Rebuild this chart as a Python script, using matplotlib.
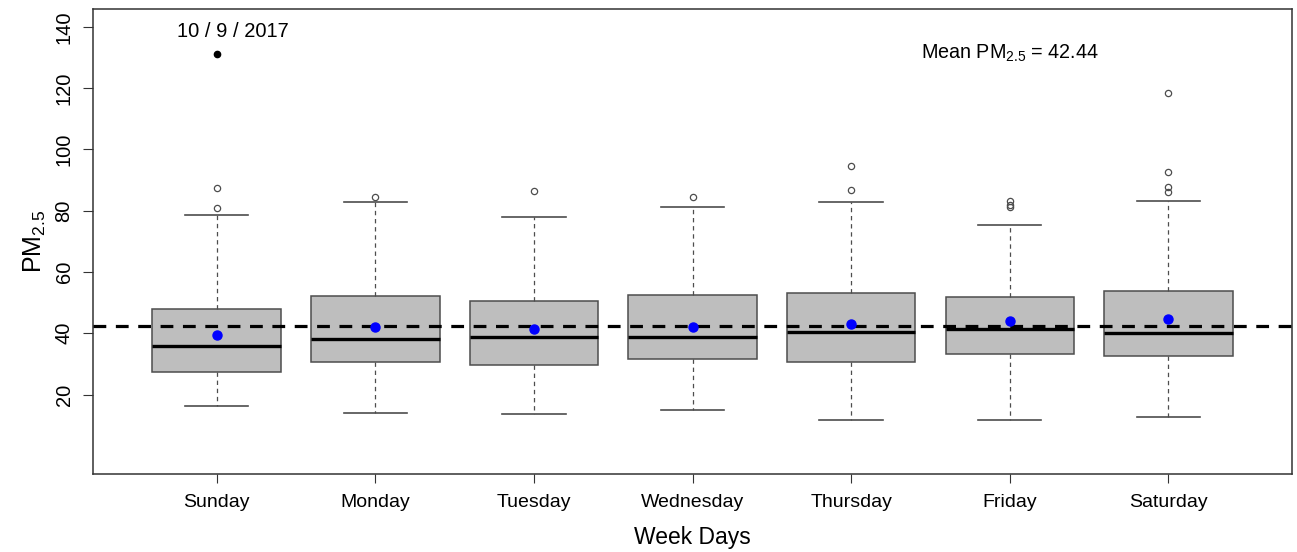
import matplotlib as mpl
import matplotlib.pyplot as plt
import numpy as np

mpl.rcParams['font.family'] = ['Liberation Sans', 'DejaVu Sans']
mpl.rcParams['mathtext.default'] = 'regular'

# values
days = ["Sunday", "Monday", "Tuesday", "Wednesday", "Thursday", "Friday", "Saturday"]
q1 = [27.3, 30.8, 29.8, 31.5, 30.8, 33.4, 32.6]
med = [35.7, 38.2, 38.8, 38.7, 40.4, 41.3, 40.0]
q3 = [47.8, 52.2, 50.6, 52.5, 53.1, 52.0, 53.7]
whis_lo = [16.3, 13.9, 13.7, 14.9, 11.7, 11.7, 12.8]
whis_hi = [78.6, 82.9, 78.1, 81.3, 82.9, 75.3, 83.2]
means = [39.4, 42.0, 41.3, 42.0, 43.0, 44.1, 44.8]
outliers = [[81.0, 87.3], [84.6], [86.4], [84.5], [86.8, 94.7],
            [81.2, 82.0, 83.0], [86.0, 87.6, 92.7, 118.3]]
extreme_day = 1
extreme_val = 131.2
extreme_label = "10 / 9 / 2017"
mean_pm = 42.44

stats = []
for i in range(len(days)):
    stats.append(dict(label=days[i], q1=q1[i], med=med[i], q3=q3[i],
                      whislo=whis_lo[i], whishi=whis_hi[i], fliers=outliers[i]))

fig = plt.figure(figsize=(12.97, 5.52), dpi=100)
ax = fig.add_axes([0.0717, 0.1413, 0.9245, 0.8424])

pos = np.arange(1, len(days) + 1)
edge = "#4d4d4d"
ax.bxp(stats, positions=pos, widths=0.81, patch_artist=True, showfliers=True,
       boxprops=dict(facecolor="#bebebe", edgecolor=edge, lw=1.1),
       medianprops=dict(color="black", lw=2.4),
       whiskerprops=dict(color=edge, lw=0.9, ls=(0, (3.5, 3))),
       capprops=dict(color=edge, lw=1.2),
       capwidths=0.4,
       flierprops=dict(marker="o", markersize=4.5, markerfacecolor="none",
                       markeredgecolor=edge, markeredgewidth=0.9))

ax.plot(pos, means, "o", color="blue", ms=6.5, zorder=5)
ax.plot([extreme_day], [extreme_val], "o", color="black", ms=4.5, zorder=5)
ax.axhline(mean_pm, color="black", lw=2.3, ls=(0, (4, 3)), zorder=4)

ax.text(extreme_day + 0.1, 138.6, extreme_label, ha="center", va="center", fontsize=14.5)
ax.text(6.0, 131.4, "Mean PM$_{2.5}$ = %.2f" % mean_pm, ha="center", va="center", fontsize=14.2)

ax.set_xlim(0.22, 7.78)
ax.set_ylim(-5.9, 145.8)
ax.set_yticks(np.arange(20, 141, 20))
ax.set_xticks(pos)
ax.set_xticklabels(days)
ax.tick_params(axis="x", labelsize=14, length=6.5, pad=8, color="#333333")
ax.tick_params(axis="y", labelsize=14.5, length=7, pad=7, color="#333333")
for lab in ax.get_yticklabels():
    lab.set_rotation(90)
    lab.set_va("center")
for s in ax.spines.values():
    s.set_color("#333333")
    s.set_linewidth(1.1)

ax.set_xlabel("Week Days", fontsize=16.5, labelpad=11)
ax.set_ylabel("PM$_{2.5}$", fontsize=18, labelpad=5)

fig.savefig("out.png", dpi=100)
